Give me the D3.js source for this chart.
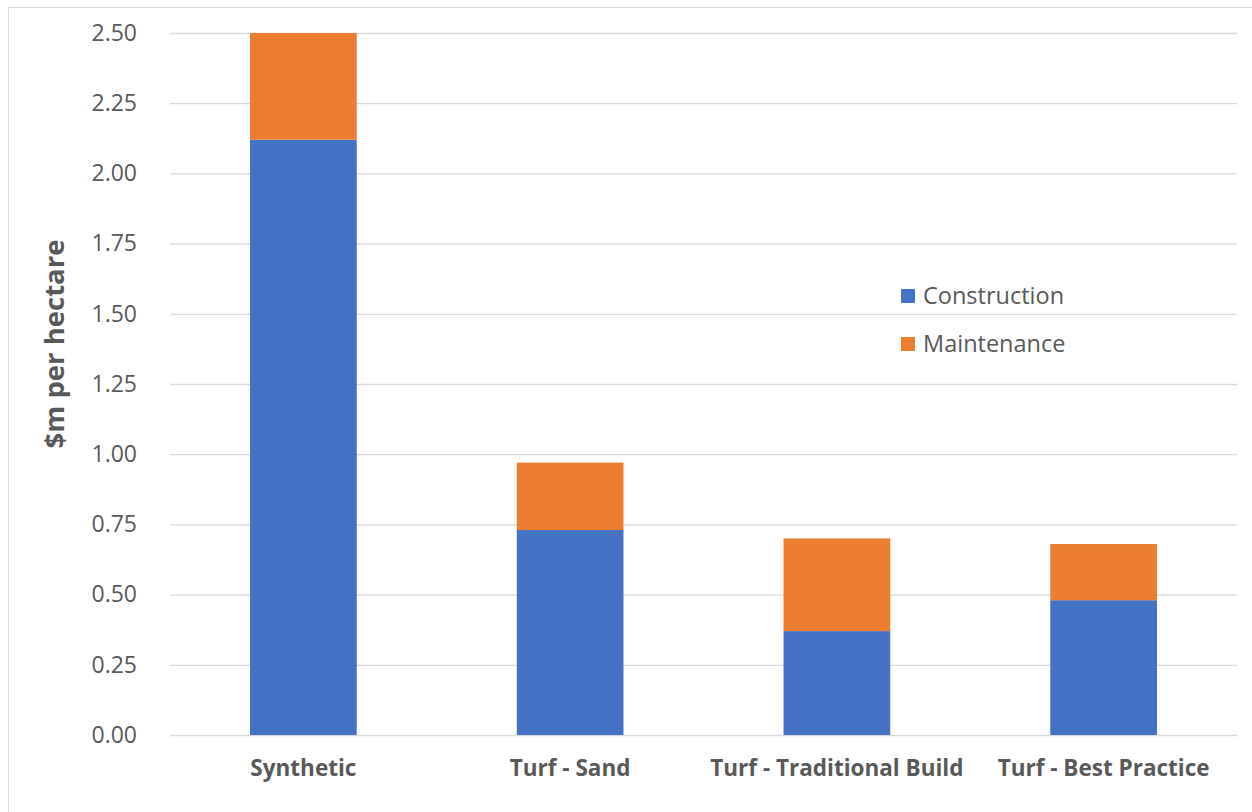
<!DOCTYPE html>
<html>
<head>
<meta charset="utf-8">
<script src="https://cdn.jsdelivr.net/npm/d3@7"></script>
<style>
  body { margin: 0; background: #fff; }
  text { font-family: "Open Sans", "Noto Sans", sans-serif; fill: #595959; }
</style>
</head>
<body>
<div class="canvas"></div>
<script>
// chart data
const categories = ['Synthetic', 'Turf - Sand', 'Turf - Traditional Build', 'Turf - Best Practice'];
const construction = [2.12, 0.73, 0.37, 0.48];
const maintenance = [0.38, 0.24, 0.33, 0.20];
const seriesNames = ['Construction', 'Maintenance'];
const yTicks = [0, 0.25, 0.5, 0.75, 1, 1.25, 1.5, 1.75, 2, 2.25, 2.5];

const colors = ['#4472C4', '#ED7D31'];

const width = 1252, height = 812;
const svg = d3.select('.canvas')
  .append('svg')
    .attr('width', width)
    .attr('height', height);

// chart border
svg.append('rect')
  .attr('x', 8.5).attr('y', 7.5)
  .attr('width', 1260).attr('height', 820)
  .attr('fill', 'none')
  .attr('stroke', '#d9d9d9');

const plot = {left: 170, right: 1237, top: 33, bottom: 735};

const y = d3.scaleLinear()
  .domain([0, 2.5])
  .range([plot.bottom, plot.top]);

const x = d3.scaleBand()
  .domain(categories)
  .range([plot.left, plot.right])
  .paddingInner(0.6)
  .paddingOuter(0.3);

// gridlines + y labels
const yAxis = d3.axisLeft(y)
  .tickValues(yTicks)
  .tickSize(-(plot.right - plot.left))
  .tickPadding(33)
  .tickFormat(d3.format('.2f'));

const yAxisGroup = svg.append('g')
  .attr('transform', `translate(${plot.left}, 0)`)
  .call(yAxis);
yAxisGroup.select('.domain').remove();
yAxisGroup.selectAll('line').attr('stroke', '#d9d9d9').attr('stroke-width', 1.3);
yAxisGroup.selectAll('text')
  .attr('font-size', 23)
  .style('font-family', '"Open Sans", sans-serif')
  .attr('fill', '#595959');

// stacked bars
const rows = categories.map((c, i) => ({cat: c, Construction: construction[i], Maintenance: maintenance[i]}));
const stacked = d3.stack().keys(seriesNames)(rows);

svg.append('g').selectAll('g')
  .data(stacked)
  .enter().append('g')
    .attr('fill', (d, i) => colors[i])
  .selectAll('rect')
  .data(d => d)
  .enter().append('rect')
    .attr('x', d => x(d.data.cat))
    .attr('width', x.bandwidth())
    .attr('y', d => y(d[1]))
    .attr('height', d => y(d[0]) - y(d[1]));

// x labels
const xAxis = d3.axisBottom(x).tickSize(0).tickPadding(25);
const xAxisGroup = svg.append('g')
  .attr('transform', `translate(0, ${plot.bottom})`)
  .call(xAxis);
xAxisGroup.select('.domain').remove();
xAxisGroup.selectAll('text')
  .attr('font-size', 22.5)
  .attr('font-weight', 'bold')
  .style('font-family', '"Open Sans", sans-serif')
  .attr('fill', '#595959');

// y title
svg.append('text')
  .attr('transform', `translate(64, 344) rotate(-90)`)
  .attr('text-anchor', 'middle')
  .attr('font-size', 27.5)
  .attr('font-weight', 'bold')
  .text('$m per hectare');

// legend
const legend = svg.append('g')
  .attr('transform', 'translate(901, 289)');
seriesNames.forEach((name, i) => {
  const g = legend.append('g').attr('transform', `translate(0, ${i * 48})`);
  g.append('rect')
    .attr('width', 14).attr('height', 14)
    .attr('fill', colors[i]);
  g.append('text')
    .attr('x', 22).attr('y', 7)
    .attr('dy', '0.35em')
    .attr('font-size', 23.5)
    .text(name);
});
</script>
</body>
</html>
